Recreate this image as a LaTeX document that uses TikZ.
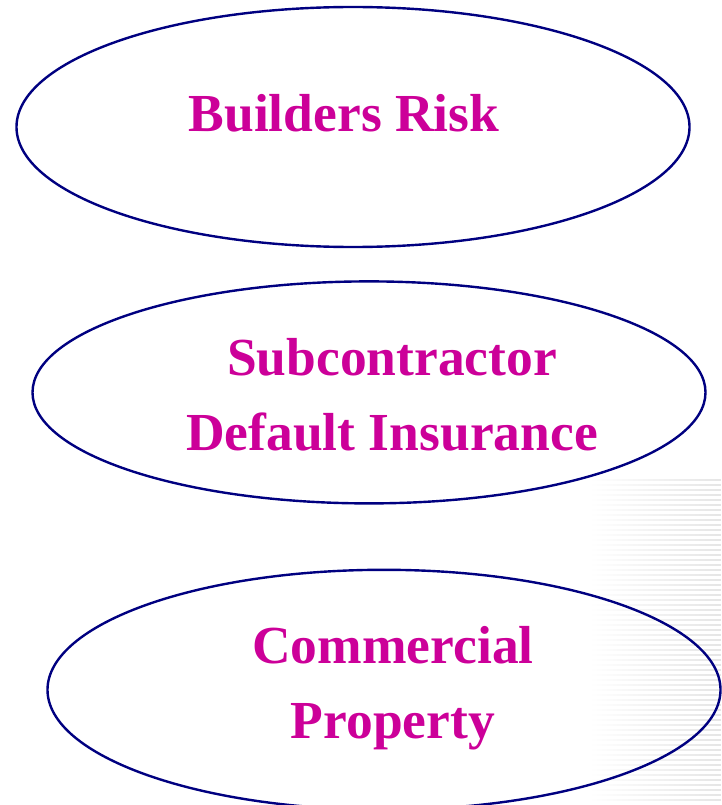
\documentclass[tikz,border=0pt]{standalone}
\usepackage{fontspec}
\setmainfont{Liberation Serif}
\usetikzlibrary{shapes.geometric, positioning, fadings}

\definecolor{navyline}{RGB}{0,0,128}
\definecolor{cover}{RGB}{204,0,153}

\begin{document}
\begin{tikzpicture}[
        x=1pt, y=1pt,
        oval/.style={ellipse, draw=navyline, line width=2.4pt, inner sep=0pt, minimum width=673pt},
        caption/.style={anchor=base, text=cover, align=center, font=\fontsize{53.5}{75}\selectfont\bfseries}
    ]
    \useasboundingbox (0,-805) rectangle (721,0);

    % faint striped backdrop, bottom right
    \draw[gray!20, line width=2pt, path fading=west]
        foreach \k in {0,...,64} {(590,-480-5*\k) -- (721,-480-5*\k)};

    % Policy 1
    \node [oval, minimum height=240pt] (risk) at (353,-127) {};
    \node [caption] (risktext) at ([shift={(-9pt,-5pt)}]risk.center) {Builders Risk};

    % Policy 2
    \node [oval, minimum height=222pt, below=32pt of risk, xshift=16pt] (sdi) {};
    \node [caption] (sditext) at ([shift={(23pt,-58pt)}]sdi.center) {Subcontractor\\Default Insurance};

    % Policy 3
    \node [oval, minimum height=240pt, below=64pt of sdi, xshift=15pt] (property) {};
    \node [caption] (propertytext) at ([shift={(9pt,-49pt)}]property.center) {Commercial\\Property};

\end{tikzpicture}
\end{document}
